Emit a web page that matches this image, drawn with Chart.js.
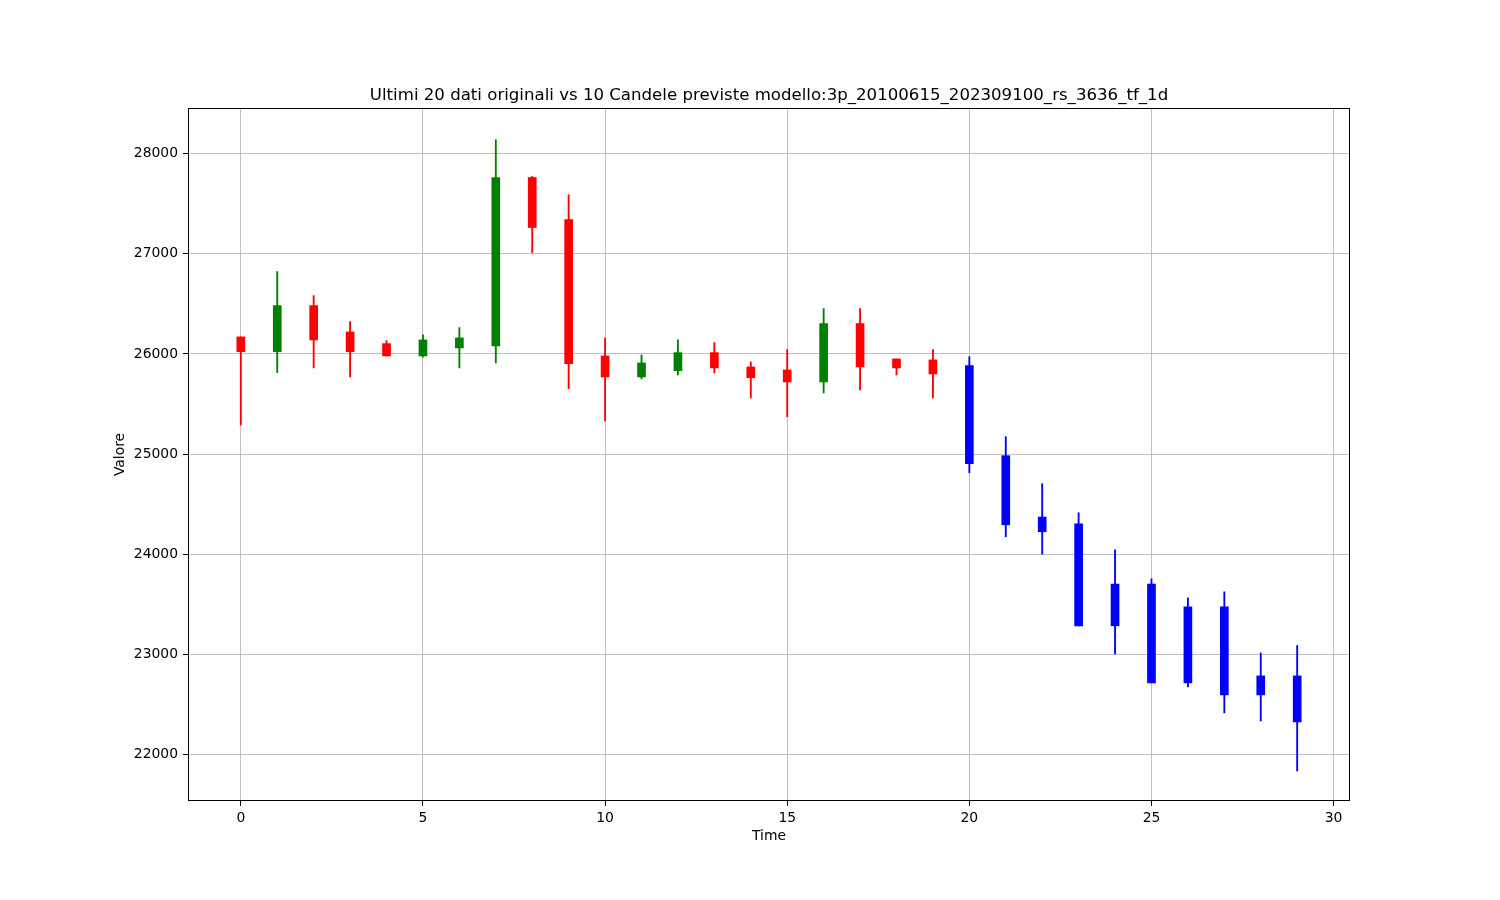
<!DOCTYPE html>
<html>
<head>
<meta charset="utf-8">
<script src="https://cdn.jsdelivr.net/npm/chart.js@4/dist/chart.umd.min.js"></script>
<style>
  html, body { margin: 0; padding: 0; background: #fff; }
  canvas { display: block; }
</style>
</head>
<body>
<canvas id="chart" width="1500" height="900" style="width:1500px;height:900px"></canvas>
<script>
// time index, 0..19 = original data, 20..29 = predicted candles
const times  = [0,1,2,3,4,5,6,7,8,9,10,11,12,13,14,15,16,17,18,19,20,21,22,23,24,25,26,27,28,29];
const open   = [26170,26023,26483,26220,26103,25980,26060,26080,27763,27343,25980,25770,25833,26013,25870,25840,25720,26303,25950,25940,
                25883,24983,24370,24303,23700,23700,23473,23473,22783,22783];
const high   = [26170,26823,26583,26323,26133,26190,26263,28140,27773,27590,26160,25990,26140,26113,25920,26043,26453,26453,25950,26043,
                25973,25173,24703,24413,24043,23753,23563,23623,23013,23087];
const low    = [25290,25813,25860,25770,25980,25967,25860,25910,27013,25653,25330,25750,25790,25810,25560,25373,25610,25640,25790,25560,
                24813,24173,24000,23283,23003,22713,22673,22413,22333,21833];
const close  = [26023,26483,26140,26023,25980,26140,26160,27763,27263,25903,25770,25910,26013,25860,25763,25720,26303,25870,25860,25800,
                24903,24293,24223,23283,23283,22713,22713,22593,22593,22323];
const nOriginal = 20;

const xTicks = [0, 5, 10, 15, 20, 25, 30];
const yTicks = [22000, 23000, 24000, 25000, 26000, 27000, 28000];

const titleText = 'Ultimi 20 dati originali vs 10 Candele previste modello:3p_20100615_202309100_rs_3636_tf_1d';

// colour of each candle: green up, red down, blue for predicted
const colors = times.map((t, i) => {
    if (i >= nOriginal) return '#0000ff';
    return close[i] >= open[i] ? '#008000' : '#ff0000';
});

const wickData = times.map((t, i) => ({ x: t, y: [low[i], high[i]] }));
const bodyData = times.map((t, i) => ({ x: t, y: [open[i], close[i]] }));

const FONT = 'DejaVu Sans';

// black frame round the plot area, like matplotlib spines
const framePlugin = {
    id: 'frame',
    afterDatasetsDraw(chart) {
        const { ctx, chartArea: a } = chart;
        ctx.save();
        ctx.strokeStyle = '#000';
        ctx.lineWidth = 1;
        ctx.strokeRect(Math.round(a.left) + 0.5, Math.round(a.top) + 0.5,
                       Math.round(a.right - a.left) - 1, Math.round(a.bottom - a.top) - 1);
        ctx.restore();
    }
};

const bgPlugin = {
    id: 'bg',
    beforeDraw(chart) {
        const ctx = chart.ctx;
        ctx.save();
        ctx.fillStyle = '#fff';
        ctx.fillRect(0, 0, chart.width, chart.height);
        ctx.restore();
    }
};

new Chart(document.getElementById('chart'), {
    type: 'bar',
    data: {
        datasets: [
            {
                label: 'wick',
                data: wickData,
                backgroundColor: colors,
                barThickness: 1.2,
                borderSkipped: false
            },
            {
                label: 'body',
                data: bodyData,
                backgroundColor: colors,
                barThickness: 8,
                borderSkipped: false
            }
        ]
    },
    options: {
        responsive: false,
        animation: false,
        devicePixelRatio: 1,
        datasets: { bar: { grouped: false } },
        layout: { padding: { left: 108, right: 150, top: 0, bottom: 0 } },
        plugins: {
            legend: { display: false },
            tooltip: { enabled: false },
            title: {
                display: true,
                text: titleText,
                fullSize: false,
                color: '#000',
                font: { family: FONT, size: 16.6, weight: 'normal', lineHeight: 1.2 },
                padding: { top: 86, bottom: 2 }
            }
        },
        scales: {
            x: {
                type: 'linear',
                min: -1.45,
                max: 30.45,
                offset: false,
                afterBuildTicks: scale => { scale.ticks = xTicks.map(v => ({ value: v })); },
                afterFit: scale => { scale.height = 99; },
                ticks: {
                    color: '#000',
                    padding: 4,
                    maxRotation: 0,
                    font: { family: FONT, size: 13.9 },
                    callback: v => String(v)
                },
                grid: {
                    offset: false,
                    color: '#b0b0b0',
                    lineWidth: 0.8,
                    tickColor: '#000',
                    tickLength: 5,
                    tickWidth: 1
                },
                border: { display: false },
                title: {
                    display: true,
                    text: 'Time',
                    color: '#000',
                    font: { family: FONT, size: 13.9, lineHeight: 1.2 },
                    padding: { top: 0, bottom: 55 }
                }
            },
            y: {
                type: 'linear',
                min: 21533,
                max: 28458,
                afterBuildTicks: scale => { scale.ticks = yTicks.map(v => ({ value: v })); },
                afterFit: scale => { scale.width = 80; },
                ticks: {
                    color: '#000',
                    padding: 5,
                    font: { family: FONT, size: 13.9 },
                    callback: v => String(v)
                },
                grid: {
                    color: '#b0b0b0',
                    lineWidth: 0.8,
                    tickColor: '#000',
                    tickLength: 5,
                    tickWidth: 1
                },
                border: { display: false },
                title: {
                    display: true,
                    text: 'Valore',
                    color: '#000',
                    font: { family: FONT, size: 13.9, lineHeight: 1.2 },
                    padding: { top: 4, bottom: 0 }
                }
            }
        }
    },
    plugins: [bgPlugin, framePlugin]
});
</script>
</body>
</html>
